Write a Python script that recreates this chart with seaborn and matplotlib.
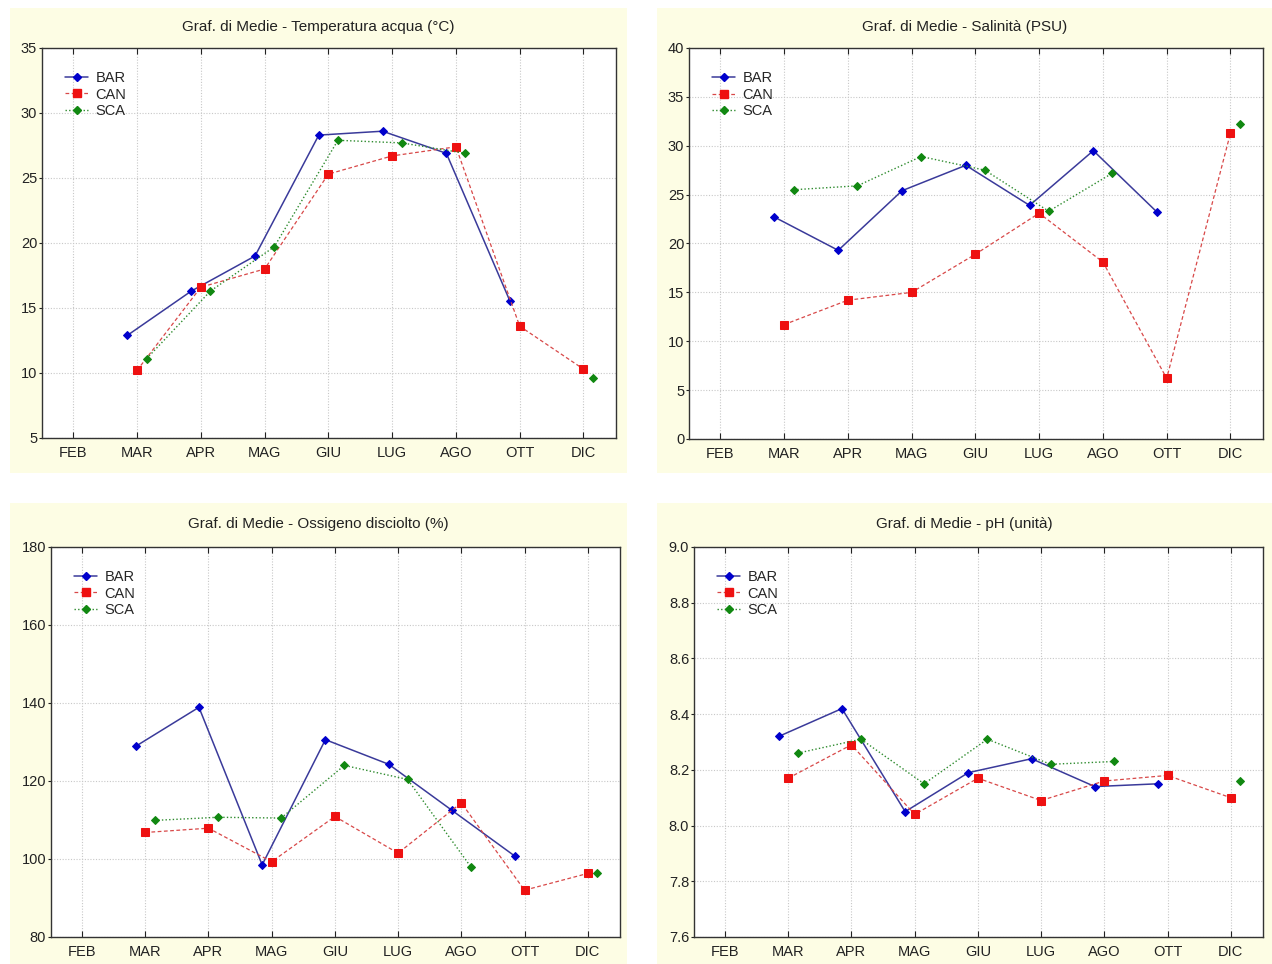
import numpy as np
import pandas as pd
import matplotlib
matplotlib.use("Agg")
import matplotlib.pyplot as plt
import seaborn as sns
from matplotlib.patches import Rectangle
from matplotlib.lines import Line2D
from matplotlib.ticker import FormatStrFormatter

nan = np.nan
months = ["FEB", "MAR", "APR", "MAG", "GIU", "LUG", "AGO", "OTT", "DIC"]
stations = ["BAR", "CAN", "SCA"]

temp_bar = [nan, 12.9, 16.3, 19.0, 28.3, 28.6, 26.9, 15.5, nan]
temp_can = [nan, 10.2, 16.6, 18.0, 25.3, 26.7, 27.4, 13.6, 10.3]
temp_sca = [nan, 11.1, 16.3, 19.7, 27.9, 27.7, 26.9, nan, 9.6]

sal_bar = [nan, 22.7, 19.3, 25.4, 28.0, 23.9, 29.5, 23.2, nan]
sal_can = [nan, 11.7, 14.2, 15.0, 18.9, 23.1, 18.1, 6.2, 31.3]
sal_sca = [nan, 25.5, 25.9, 28.9, 27.5, 23.3, 27.2, nan, 32.2]

oxy_bar = [nan, 128.9, 138.9, 98.5, 130.6, 124.3, 112.5, 100.7, nan]
oxy_can = [nan, 106.8, 107.9, 99.3, 110.9, 101.5, 114.4, 92.0, 96.3]
oxy_sca = [nan, 109.9, 110.7, 110.5, 124.0, 120.4, 98.0, nan, 96.4]

ph_bar = [nan, 8.32, 8.42, 8.05, 8.19, 8.24, 8.14, 8.15, nan]
ph_can = [nan, 8.17, 8.29, 8.04, 8.17, 8.09, 8.16, 8.18, 8.10]
ph_sca = [nan, 8.26, 8.31, 8.15, 8.31, 8.22, 8.23, nan, 8.16]

titles = [
    "Graf. di Medie - Temperatura acqua (°C)",
    "Graf. di Medie - Salinità (PSU)",
    "Graf. di Medie - Ossigeno disciolto (%)",
    "Graf. di Medie - pH (unità)",
]
yticks_list = [
    [5, 10, 15, 20, 25, 30, 35],
    [0, 5, 10, 15, 20, 25, 30, 35, 40],
    [80, 100, 120, 140, 160, 180],
    [7.6, 7.8, 8.0, 8.2, 8.4, 8.6, 8.8, 9.0],
]
panel_data = [
    (temp_bar, temp_can, temp_sca),
    (sal_bar, sal_can, sal_sca),
    (oxy_bar, oxy_can, oxy_sca),
    (ph_bar, ph_can, ph_sca),
]

sns.set_style("white")
plt.rcParams["font.family"] = ["Liberation Sans", "DejaVu Sans"]

W, H = 1272, 964
fig = plt.figure(figsize=(W / 100, H / 100), dpi=100)
fig.patch.set_facecolor("white")

# panel background boxes (pixels: x0, y0, x1, y1)
panels_px = [(10, 8, 627, 473), (657, 8, 1272, 473),
             (10, 503, 627, 964), (657, 503, 1272, 964)]
axes_px = [(42, 48, 616, 438), (689, 48, 1263, 439),
           (51, 547, 620, 937), (694, 547, 1263, 937)]
title_y = [27, 27, 524, 524]

bg = "#FDFDE4"
styles = {
    "BAR": dict(color="#3A3A9A", ls="-", marker="D", ms=4.3, mfc="#0000CC", mec="#0000CC", off=-0.15, lw=1.1),
    "CAN": dict(color="#D84848", ls=(0, (3, 2)), marker="s", ms=5.3, mfc="#EE1111", mec="#EE1111", off=0.0, lw=0.9),
    "SCA": dict(color="#2E8B2E", ls=(0, (1, 1.6)), marker="D", ms=4.3, mfc="#118811", mec="#118811", off=0.15, lw=1.0),
}

for i in range(4):
    x0, y0, x1, y1 = panels_px[i]
    fig.patches.append(Rectangle((x0 / W, 1 - y1 / H), (x1 - x0) / W, (y1 - y0) / H,
                                 transform=fig.transFigure, facecolor=bg,
                                 edgecolor="none", zorder=-5))
    ax0, ay0, ax1, ay1 = axes_px[i]
    ax = fig.add_axes([ax0 / W, 1 - ay1 / H, (ax1 - ax0) / W, (ay1 - ay0) / H])
    ax.set_facecolor("white")

    for st, vals in zip(stations, panel_data[i]):
        s = styles[st]
        rows = []
        seg = 0
        prev_nan = True
        for k, v in enumerate(vals):
            if np.isnan(v):
                prev_nan = True
                continue
            if prev_nan:
                seg += 1
            prev_nan = False
            rows.append({"x": k + s["off"], "y": v, "seg": seg})
        df = pd.DataFrame(rows)
        sns.lineplot(data=df, x="x", y="y", units="seg", estimator=None, sort=False,
                     ax=ax, color=s["color"], linestyle=s["ls"], linewidth=s["lw"],
                     marker=s["marker"], markersize=s["ms"],
                     markerfacecolor=s["mfc"], markeredgecolor=s["mec"],
                     legend=False, zorder=3)

    yt = yticks_list[i]
    ax.set_ylim(yt[0], yt[-1])
    ax.set_yticks(yt)
    if i == 3:
        ax.yaxis.set_major_formatter(FormatStrFormatter("%.1f"))
    ax.set_xlim(-0.49, 8.51)
    ax.set_xticks(range(len(months)))
    ax.set_xticklabels(months)
    ax.set_xlabel("")
    ax.set_ylabel("")
    ax.grid(True, color="#C8C8C8", linestyle=(0, (1, 1.5)), linewidth=0.8)
    ax.set_axisbelow(True)
    for sp in ax.spines.values():
        sp.set_color("#333333")
        sp.set_linewidth(1.0)
        sp.set_visible(True)
    ax.tick_params(axis="x", direction="in", length=4, top=True, bottom=True,
                   labelsize=10.5, colors="#222222", pad=6)
    ax.tick_params(axis="y", direction="out", length=2, left=True, right=False,
                   labelsize=10.5, colors="#222222", pad=1.5)

    handles = [Line2D([], [], color=styles[st]["color"], linestyle=styles[st]["ls"],
                      linewidth=styles[st]["lw"], marker=styles[st]["marker"],
                      markersize=styles[st]["ms"], markerfacecolor=styles[st]["mfc"],
                      markeredgecolor=styles[st]["mec"]) for st in stations]
    ax.legend(handles, stations, loc="upper left", frameon=False, fontsize=10.5,
              handlelength=1.6, handletextpad=0.5, labelspacing=0.15,
              borderaxespad=0.0, bbox_to_anchor=(0.03, 0.955))

    cx = (x0 + x1) / 2
    fig.text(cx / W, 1 - title_y[i] / H, titles[i], ha="center", va="center",
             fontsize=11, color="#222222")

fig.savefig("out.png", dpi=100, facecolor="white")
